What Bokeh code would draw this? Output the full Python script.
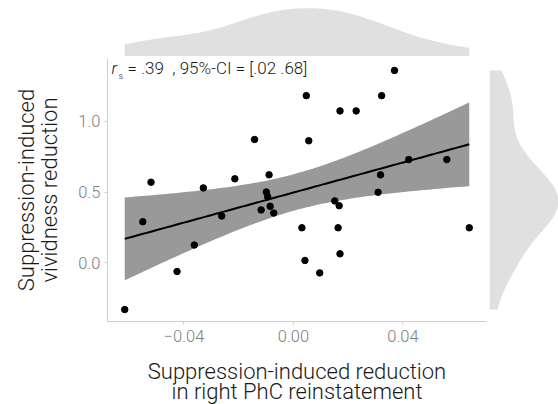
import numpy as np
from bokeh.plotting import figure
from bokeh.layouts import column, row
from bokeh.models import Range1d, FixedTicker, CustomJSTickFormatter, Label
from bokeh.embed import file_html
from bokeh.resources import INLINE

# ---------------- data ----------------
phc_reduction = [-0.0616, -0.0550, -0.0520, -0.0425, -0.0362, -0.0329, -0.0262,
                 -0.0214, -0.0142, -0.0118, -0.0099, -0.0094, -0.0089, -0.0085,
                 -0.0072, 0.0031, 0.0042, 0.0047, 0.0056, 0.0096, 0.0151, 0.0163,
                 0.0167, 0.0170, 0.0170, 0.0229, 0.0309, 0.0318, 0.0322, 0.0369,
                 0.0421, 0.0560, 0.0642]
vividness_reduction = [-0.330, 0.291, 0.570, -0.061, 0.126, 0.530, 0.331, 0.594,
                       0.872, 0.374, 0.501, 0.468, 0.622, 0.400, 0.352, 0.248,
                       0.017, 1.182, 0.863, -0.071, 0.438, 0.248, 0.404, 1.074,
                       0.064, 1.074, 0.499, 0.622, 1.182, 1.360, 0.730, 0.730,
                       0.248]
x_ticks = [-0.04, 0.0, 0.04]
y_ticks = [0.0, 0.5, 1.0]
stat_rs = ".39"
stat_ci = "[.02 .68]"
x_title_lines = ["Suppression-induced reduction", "in right PhC reinstatement"]
y_title = "Suppression-induced\nvividness reduction"
T_975_31 = 2.0395  # t quantile for 95% CI with n-2 = 31 df

# ---------------- layout constants ----------------
FONT = "Roboto Light"
FIG_W = 558
FIG_H = 404
LEFT_B = 107
FRAME_W = 379
RIGHT_GAP = 3
MAIN_W = LEFT_B + FRAME_W + RIGHT_GAP
SIDE_W = FIG_W - MAIN_W
TOP_H = 56
TOP_PAD = 7.7
MAIN_H = 296
TOP_B = 2
FRAME_H = 263
BOTTOM_B = MAIN_H - TOP_B - FRAME_H
TITLE_H = FIG_H - TOP_H - MAIN_H
TITLE_Y0 = 33.5     # baseline of first x-title line, px above strip bottom
TITLE_DY = 20.0     # line spacing of x title

x = np.array(phc_reduction)
y = np.array(vividness_reduction)
n = len(x)


def expand(v, f=0.05):
    lo, hi = float(np.min(v)), float(np.max(v))
    d = (hi - lo) * f
    return lo - d, hi + d


xr = Range1d(*expand(x))
yr = Range1d(*expand(y))

# ---------------- linear fit with 95% CI ----------------
b, a = np.polyfit(x, y, 1)
xs = np.linspace(x.min(), x.max(), 100)
yhat = a + b * xs
resid = y - (a + b * x)
s = np.sqrt(np.sum(resid ** 2) / (n - 2))
sxx = np.sum((x - x.mean()) ** 2)
se = s * np.sqrt(1.0 / n + (xs - x.mean()) ** 2 / sxx)
lo_ci = yhat - T_975_31 * se
hi_ci = yhat + T_975_31 * se


# ---------------- marginal densities (gaussian, nrd0) ----------------
def kde(v, adjust=1.0, npts=512):
    v = np.asarray(v)
    q75, q25 = np.percentile(v, [75, 25])
    bw = adjust * 0.9 * min(np.std(v, ddof=1), (q75 - q25) / 1.34) * len(v) ** (-0.2)
    g = np.linspace(v.min(), v.max(), npts)
    d = np.exp(-0.5 * ((g[:, None] - v[None, :]) / bw) ** 2).sum(axis=1)
    d /= (len(v) * bw * np.sqrt(2 * np.pi))
    return g, d


gx, dx = kde(x, adjust=1.3)
gy, dy = kde(y)

# ---------------- main panel ----------------
p = figure(width=MAIN_W, height=MAIN_H, x_range=xr, y_range=yr,
           output_backend="svg", toolbar_location=None,
           min_border_left=LEFT_B, min_border_right=RIGHT_GAP,
           min_border_top=TOP_B, min_border_bottom=BOTTOM_B)
p.outline_line_color = None
p.grid.visible = False
p.background_fill_color = "white"
p.border_fill_color = "white"

p.varea(x=xs, y1=lo_ci, y2=hi_ci, fill_color="#999999", fill_alpha=1.0)
p.line(xs, yhat, line_color="black", line_width=2)
p.scatter(x, y, size=6.5, fill_color="black", line_color="black")

for ax in (p.xaxis[0], p.yaxis[0]):
    ax.axis_line_color = "#cfcfcf"
    ax.axis_line_width = 1
    ax.major_tick_line_color = "#cfcfcf"
    ax.major_tick_in = 0
    ax.major_tick_out = 3
    ax.minor_tick_line_color = None
    ax.major_label_text_font = FONT
    ax.major_label_text_font_size = "16.5px"
    ax.major_label_text_color = "#808080"
    ax.axis_label_text_font = FONT
    ax.axis_label_text_font_size = "22px"
    ax.axis_label_text_font_style = "normal"
    ax.axis_label_text_color = "#1a1a1a"
    ax.axis_label_text_line_height = 0.92

p.xaxis.ticker = FixedTicker(ticks=x_ticks)
p.yaxis.ticker = FixedTicker(ticks=y_ticks)
p.xaxis.formatter = CustomJSTickFormatter(
    code="return (tick < 0 ? '\u2212' : '') + Math.abs(tick).toFixed(2);")
p.yaxis.formatter = CustomJSTickFormatter(
    code="return (tick < 0 ? '\u2212' : '') + Math.abs(tick).toFixed(1);")
p.xaxis.major_label_standoff = 5
p.yaxis.major_label_standoff = 4
p.yaxis.axis_label = y_title
p.yaxis.axis_label_standoff = 13

# correlation annotation
p.add_layout(Label(x=4, y=244, x_units="screen", y_units="screen", text="r",
                   text_font=FONT, text_font_style="italic",
                   text_font_size="17px", text_color="#1a1a1a"))
p.add_layout(Label(x=11, y=241, x_units="screen", y_units="screen", text="s",
                   text_font=FONT, text_font_size="9px", text_color="#1a1a1a"))
p.add_layout(Label(x=20, y=244, x_units="screen", y_units="screen",
                   text="= " + stat_rs + "\u00a0\u00a0, 95%-CI = " + stat_ci,
                   text_font=FONT, text_font_size="17px", text_color="#1a1a1a"))

# ---------------- x-axis title (own strip under the panel) ----------------
# (the strip's frame is aligned by the column layout with the main frame)
xt = figure(width=MAIN_W, height=TITLE_H, x_range=Range1d(0, 1), y_range=Range1d(0, 1),
            output_backend="svg", toolbar_location=None,
            x_axis_location=None, y_axis_location=None,
            min_border_left=0, min_border_right=0, min_border_top=0, min_border_bottom=0)
xt.grid.visible = False
xt.outline_line_color = None
for i, line_text in enumerate(x_title_lines):
    xt.add_layout(Label(x=FRAME_W / 2, y=TITLE_Y0 - i * TITLE_DY,
                        x_units="screen", y_units="screen", text=line_text,
                        text_align="center", text_baseline="alphabetic",
                        text_font=FONT, text_font_size="22px", text_color="#1a1a1a"))

# ---------------- top density ----------------
top = figure(width=LEFT_B + FRAME_W, height=TOP_H, x_range=xr,
             y_range=Range1d(0, float(dx.max()) * TOP_H / (TOP_H - TOP_PAD)),
             output_backend="svg", toolbar_location=None,
             min_border_left=LEFT_B, min_border_right=0,
             min_border_top=0, min_border_bottom=0)
top.varea(x=gx, y1=0, y2=dx, fill_color="#e0e0e0")
top.axis.visible = False
top.grid.visible = False
top.outline_line_color = None

# ---------------- right density ----------------
side = figure(width=SIDE_W, height=MAIN_H, y_range=yr,
              x_range=Range1d(0, float(dy.max())),
              output_backend="svg", toolbar_location=None,
              min_border_left=0, min_border_right=0,
              min_border_top=TOP_B, min_border_bottom=BOTTOM_B)
side.harea(y=gy, x1=0, x2=dy, fill_color="#e0e0e0")
side.axis.visible = False
side.grid.visible = False
side.outline_line_color = None

layout = column(top, row(p, side, spacing=0), xt, spacing=0)

open("out.html", "w").write(file_html(layout, INLINE))
